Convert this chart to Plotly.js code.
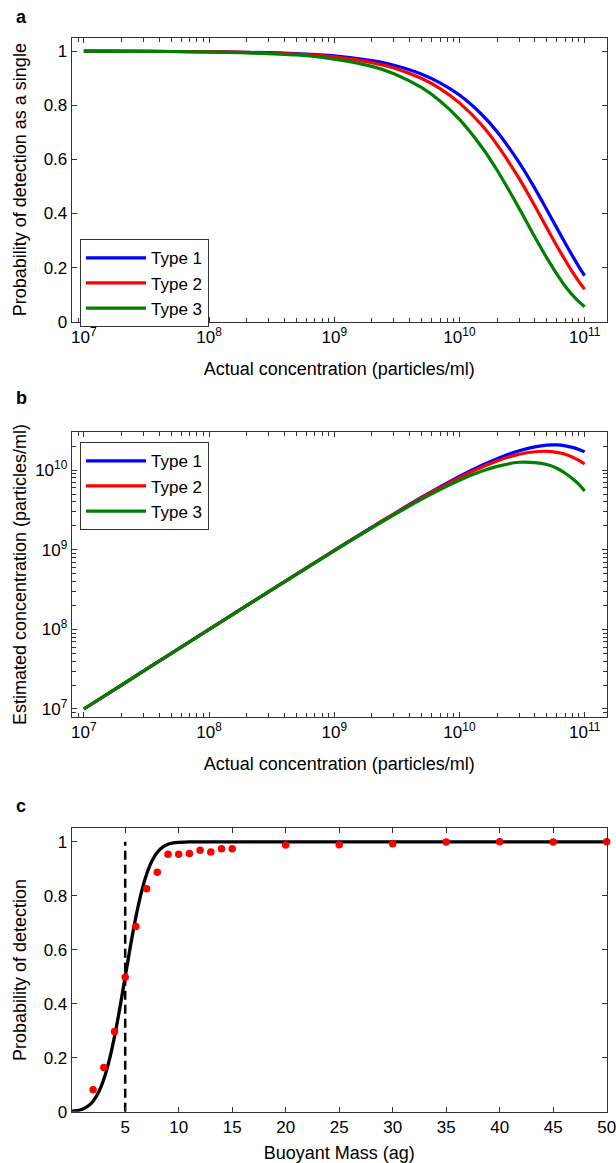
<!DOCTYPE html>
<html>
<head>
<meta charset="utf-8">
<script src="https://cdn.plot.ly/plotly-3.0.1.min.js"></script>
<style>
html,body{margin:0;padding:0;background:#fff;}
#chart{width:616px;height:1163px;}
</style>
</head>
<body>
<div id="chart"></div>
<script>
// ---------- data ----------
const seriesNames = ['Type 1', 'Type 2', 'Type 3'];
const seriesColors = ['#0000ff', '#ff0000', '#008000'];

// actual concentration (particles/ml)
const concentration = [1e7, 2e7, 5e7, 1e8, 2e8, 5e8, 1e9, 2e9, 3e9, 5e9, 7e9, 1e10, 1.5e10, 2e10, 3e10, 4e10, 5e10, 6e10, 7e10, 8e10, 9e10, 1e11];

// panel a: probability of detection as a single
const probType1 = [1.000, 1.000, 0.999, 0.998, 0.996, 0.991, 0.983, 0.965, 0.948, 0.915, 0.883, 0.838, 0.767, 0.702, 0.588, 0.493, 0.413, 0.346, 0.290, 0.243, 0.203, 0.170];
const probType2 = [1.000, 1.000, 0.999, 0.998, 0.996, 0.989, 0.979, 0.958, 0.938, 0.899, 0.862, 0.809, 0.728, 0.654, 0.529, 0.428, 0.346, 0.280, 0.227, 0.183, 0.148, 0.120];
const probType3 = [1.000, 0.999, 0.999, 0.997, 0.994, 0.986, 0.971, 0.944, 0.917, 0.865, 0.816, 0.748, 0.647, 0.560, 0.419, 0.313, 0.235, 0.176, 0.131, 0.098, 0.074, 0.055];

// panel b: estimated concentration (particles/ml)
const estType1 = [1.0e7, 2.0e7, 5.0e7, 1.0e8, 2.0e8, 4.96e8, 9.83e8, 1.93e9, 2.84e9, 4.58e9, 6.18e9, 8.38e9, 1.15e10, 1.40e10, 1.76e10, 1.97e10, 2.07e10, 2.08e10, 2.03e10, 1.94e10, 1.83e10, 1.70e10];
const estType2 = [1.0e7, 2.0e7, 5.0e7, 1.0e8, 1.99e8, 4.95e8, 9.79e8, 1.92e9, 2.81e9, 4.50e9, 6.03e9, 8.09e9, 1.09e10, 1.31e10, 1.59e10, 1.71e10, 1.73e10, 1.68e10, 1.59e10, 1.46e10, 1.33e10, 1.20e10];
const estType3 = [1.0e7, 2.0e7, 5.0e7, 9.97e7, 1.99e8, 4.93e8, 9.71e8, 1.89e9, 2.75e9, 4.33e9, 5.71e9, 7.48e9, 9.70e9, 1.12e10, 1.26e10, 1.25e10, 1.18e10, 1.06e10, 9.17e9, 7.84e9, 6.66e9, 5.50e9];

// panel c: fitted curve, measured points, threshold
const massCurve = [0, 0.5, 1, 1.5, 2, 2.5, 3, 3.5, 4, 4.5, 5, 5.5, 6, 6.5, 7, 7.5, 8, 8.5, 9, 9.5, 10, 11, 12, 50];
const probCurve = [0.002, 0.004, 0.009, 0.020, 0.039, 0.071, 0.120, 0.189, 0.278, 0.384, 0.500, 0.616, 0.722, 0.811, 0.880, 0.929, 0.961, 0.980, 0.991, 0.996, 0.998, 1.000, 1.000, 1.000];
const massObs = [2, 3, 4, 5, 6, 7, 8, 9, 10, 11, 12, 13, 14, 15, 20, 25, 30, 35, 40, 45, 50];
const probObs = [0.081, 0.164, 0.297, 0.498, 0.686, 0.826, 0.887, 0.954, 0.954, 0.957, 0.969, 0.962, 0.974, 0.974, 0.988, 0.989, 0.993, 0.999, 1.000, 0.999, 1.000];
const thresholdX = [5, 5];
const thresholdY = [0, 1];

// tick labels
const logTickVals = [1e7, 1e8, 1e9, 1e10, 1e11];
const logTickText = ['10<sup>7</sup>', '10<sup>8</sup>', '10<sup>9</sup>', '10<sup>10</sup>', '10<sup>11</sup>'];
const probTickVals = [0, 0.2, 0.4, 0.6, 0.8, 1];
const probTickText = ['0', '0.2', '0.4', '0.6', '0.8', '1'];
const massTickVals = [5, 10, 15, 20, 25, 30, 35, 40, 45, 50];
const massTickText = ['5', '10', '15', '20', '25', '30', '35', '40', '45', '50'];
const panelLabels = ['a', 'b', 'c'];

// ---------- build ----------
const FONT = '"Liberation Sans", Arial, Helvetica, sans-serif';
const W = 616, H = 1163;
const px2y = p => 1 - p / H;

const minorLog = [];
for (let e = 6; e <= 11; e++) for (let m = 2; m <= 9; m++) minorLog.push(m * Math.pow(10, e));

const probs = [probType1, probType2, probType3];
const ests = [estType1, estType2, estType3];
const traces = [];
for (let i = 0; i < 3; i++) {
  traces.push({
    x: concentration, y: probs[i], type: 'scatter', mode: 'lines', name: seriesNames[i],
    line: {color: seriesColors[i], width: 3.2, shape: 'spline', smoothing: 1},
    xaxis: 'x', yaxis: 'y', legend: 'legend'
  });
}
for (let i = 0; i < 3; i++) {
  traces.push({
    x: concentration, y: ests[i], type: 'scatter', mode: 'lines', name: seriesNames[i],
    line: {color: seriesColors[i], width: 3.2, shape: 'spline', smoothing: 1},
    xaxis: 'x2', yaxis: 'y2', legend: 'legend2'
  });
}
traces.push({
  x: thresholdX, y: thresholdY, type: 'scatter', mode: 'lines', showlegend: false,
  line: {color: '#000', width: 2.5, dash: '9px,5px'}, xaxis: 'x3', yaxis: 'y3'
});
traces.push({
  x: massCurve, y: probCurve, type: 'scatter', mode: 'lines', showlegend: false,
  line: {color: '#000', width: 3.3, shape: 'spline', smoothing: 0.6}, xaxis: 'x3', yaxis: 'y3'
});
traces.push({
  x: massObs, y: probObs, type: 'scatter', mode: 'markers', showlegend: false, cliponaxis: false,
  marker: {color: '#ff0000', size: 7.5}, xaxis: 'x3', yaxis: 'y3'
});

const xDom = [71.7 / W, 606.7 / W];
const domA = [px2y(321.7), px2y(37.7)];
const domB = [px2y(716.7), px2y(432.3)];
const domC = [px2y(1111.7), px2y(828.3)];

function axisBase(extra) {
  return Object.assign({
    showline: true, linecolor: '#333', linewidth: 1, mirror: 'ticks',
    ticks: 'inside', ticklen: 5, tickcolor: '#333', tickwidth: 1,
    showgrid: false, zeroline: false, fixedrange: true, ticklabeloverflow: 'allow',
    tickfont: {family: FONT, size: 17, color: '#000'}
  }, extra);
}
function minorLogCfg() {
  return {ticks: 'inside', ticklen: 4, tickcolor: '#333', tickwidth: 1, showgrid: false, tickmode: 'array', tickvals: minorLog};
}
const concTitle = 'Actual concentration (particles/ml)';

const layout = {
  width: W, height: H,
  margin: {l: 0, r: 0, t: 0, b: 0},
  paper_bgcolor: '#fff', plot_bgcolor: '#fff',
  font: {family: FONT, color: '#000'},
  xaxis: axisBase({type: 'log', domain: xDom, anchor: 'y', range: [Math.log10(8e6), Math.log10(1.5e11)],
    tickmode: 'array', tickvals: logTickVals, ticktext: logTickText, minor: minorLogCfg(),
    title: {text: concTitle, font: {family: FONT, size: 18}, standoff: 16}}),
  yaxis: axisBase({domain: domA, anchor: 'x', range: [0, 1.05], tickmode: 'array', tickvals: probTickVals, ticktext: probTickText,
    title: {text: 'Probability of detection as a single', font: {family: FONT, size: 18}}}),
  xaxis2: axisBase({type: 'log', domain: xDom, anchor: 'y2', range: [Math.log10(8e6), Math.log10(1.5e11)],
    tickmode: 'array', tickvals: logTickVals, ticktext: logTickText, minor: minorLogCfg(),
    title: {text: concTitle, font: {family: FONT, size: 18}, standoff: 16}}),
  yaxis2: axisBase({type: 'log', domain: domB, anchor: 'x2', range: [Math.log10(8e6), Math.log10(3e10)],
    tickmode: 'array', tickvals: [1e7, 1e8, 1e9, 1e10], ticktext: logTickText.slice(0, 4), minor: minorLogCfg(),
    title: {text: 'Estimated concentration (particles/ml)', font: {family: FONT, size: 18}}}),
  xaxis3: axisBase({domain: xDom, anchor: 'y3', range: [0, 50.001], tickmode: 'array', tickvals: massTickVals, ticktext: massTickText,
    title: {text: 'Buoyant Mass (ag)', font: {family: FONT, size: 18}}}),
  yaxis3: axisBase({domain: domC, anchor: 'x3', range: [0, 1.05], tickmode: 'array', tickvals: probTickVals, ticktext: probTickText,
    title: {text: 'Probability of detection', font: {family: FONT, size: 18}}}),
  legend: {x: 80 / W, y: px2y(239.3), xanchor: 'left', yanchor: 'top', bgcolor: '#fff', bordercolor: '#333', borderwidth: 1,
    font: {family: FONT, size: 17, color: '#000'}, itemwidth: 60, tracegroupgap: 0},
  legend2: {x: 80 / W, y: px2y(442.3), xanchor: 'left', yanchor: 'top', bgcolor: '#fff', bordercolor: '#333', borderwidth: 1,
    font: {family: FONT, size: 17, color: '#000'}, itemwidth: 60, tracegroupgap: 0},
  annotations: [
    {text: '<b>' + panelLabels[0] + '</b>', xref: 'paper', yref: 'paper', x: 14 / W, y: px2y(16.5), xanchor: 'left', yanchor: 'middle', showarrow: false, font: {family: FONT, size: 18}},
    {text: '<b>' + panelLabels[1] + '</b>', xref: 'paper', yref: 'paper', x: 14 / W, y: px2y(398), xanchor: 'left', yanchor: 'middle', showarrow: false, font: {family: FONT, size: 18}},
    {text: '<b>' + panelLabels[2] + '</b>', xref: 'paper', yref: 'paper', x: 14 / W, y: px2y(806), xanchor: 'left', yanchor: 'middle', showarrow: false, font: {family: FONT, size: 18}}
  ]
};

Plotly.newPlot('chart', traces, layout, {displayModeBar: false, staticPlot: true});
</script>
</body>
</html>
